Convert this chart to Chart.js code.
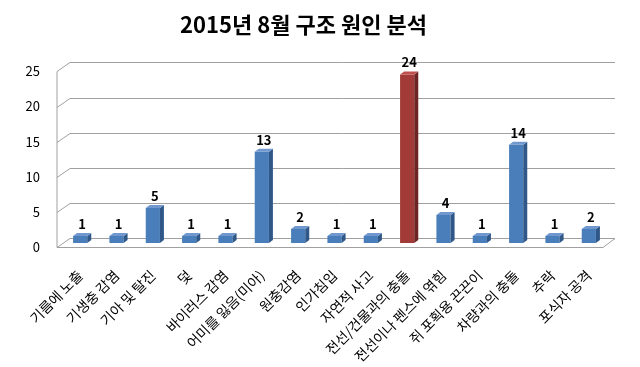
<!DOCTYPE html>
<html>
<head>
<meta charset="utf-8">
<script src="https://cdn.jsdelivr.net/npm/chart.js@4.4.1/dist/chart.umd.min.js"></script>
<style>
  html, body { margin: 0; padding: 0; background: #fff; }
  #wrap { width: 640px; height: 367px; }
</style>
</head>
<body>
<div id="wrap"><canvas id="chart" width="640" height="367"></canvas></div>
<script>
// 데이터
const categories = ['기름에 노출', '기생충 감염', '기아 및 탈진', '덫', '바이러스 감염', '어미를 잃음(미아)', '원충감염', '인가침입', '자연적 사고', '전선/건물과의 충돌', '전선이나 펜스에 엮힘', '쥐 포획용 끈끈이', '차량과의 충돌', '추락', '포식자 공격'];
const counts = [1, 1, 5, 1, 1, 13, 2, 1, 1, 24, 4, 1, 14, 1, 2];
const highlight = '전선/건물과의 충돌';
const yTicks = [0, 5, 10, 15, 20, 25];

const FONT = "'Noto Sans CJK KR', 'Noto Sans', sans-serif";
const DEPTH_X = 4, DEPTH_Y = 3;

function faceColors(label) {
  if (label === highlight) return { front: '#a23a37', side: '#6d2422', top: '#c0504d' };
  return { front: '#4a7ebb', side: '#2f5889', top: '#7098cf' };
}

// 3D 벽/바닥 격자
const wallPlugin = {
  id: 'wall',
  beforeDatasetsDraw(chart) {
    const { ctx, chartArea, scales } = chart;
    const y = scales.y;
    const fx = chartArea.left - 5, bx = chartArea.left + 8, rx = chartArea.right + 8;
    ctx.save();
    ctx.strokeStyle = '#a0a0a0';
    ctx.lineWidth = 1;
    yTicks.forEach(v => {
      const py = Math.round(y.getPixelForValue(v)) + 0.5;
      ctx.beginPath();
      ctx.moveTo(fx, py + 4);
      ctx.lineTo(bx, py - 5);
      ctx.lineTo(rx, py - 5);
      ctx.stroke();
    });
    const y0 = Math.round(y.getPixelForValue(0)) + 0.5;
    const yTop = Math.round(y.getPixelForValue(25)) + 0.5;
    ctx.beginPath();
    ctx.moveTo(fx, yTop + 4);
    ctx.lineTo(fx, y0 + 4);
    ctx.lineTo(rx - 12, y0 + 4);
    ctx.lineTo(rx, y0 - 5);
    ctx.stroke();
    ctx.restore();
  }
};

// 막대 옆면, 윗면, 값 표시
const bar3dPlugin = {
  id: 'bar3d',
  afterDatasetsDraw(chart) {
    const { ctx } = chart;
    const meta = chart.getDatasetMeta(0);
    ctx.save();
    meta.data.forEach((bar, i) => {
      const c = faceColors(categories[i]);
      const x1 = bar.x - bar.width / 2, x2 = bar.x + bar.width / 2;
      const top = bar.y, base = bar.base;
      ctx.fillStyle = c.side;
      ctx.beginPath();
      ctx.moveTo(x2, top);
      ctx.lineTo(x2 + DEPTH_X, top - DEPTH_Y);
      ctx.lineTo(x2 + DEPTH_X, base - DEPTH_Y);
      ctx.lineTo(x2, base);
      ctx.closePath();
      ctx.fill();
      ctx.fillStyle = c.top;
      ctx.beginPath();
      ctx.moveTo(x1, top);
      ctx.lineTo(x1 + DEPTH_X, top - DEPTH_Y);
      ctx.lineTo(x2 + DEPTH_X, top - DEPTH_Y);
      ctx.lineTo(x2, top);
      ctx.closePath();
      ctx.fill();

      ctx.fillStyle = '#000';
      ctx.font = 'bold 13px ' + FONT;
      ctx.textAlign = 'center';
      ctx.textBaseline = 'middle';
      ctx.fillText(counts[i], bar.x + 2, top - 12);
    });
    ctx.restore();
  }
};

new Chart(document.getElementById('chart'), {
  type: 'bar',
  data: {
    labels: categories,
    datasets: [{
      data: counts,
      backgroundColor: categories.map(l => faceColors(l).front),
      borderWidth: 0,
      barPercentage: 0.39,
      categoryPercentage: 1
    }]
  },
  options: {
    responsive: false,
    animation: false,
    layout: { padding: { right: 33 } },
    plugins: {
      legend: { display: false },
      tooltip: { enabled: false },
      title: {
        display: true,
        text: '2015년 8월 구조 원인 분석',
        color: '#000',
        font: { family: FONT, size: 22, weight: 'bold' },
        padding: { top: 11, bottom: 30 }
      }
    },
    scales: {
      x: {
        grid: { display: false },
        border: { display: false },
        ticks: {
          color: '#000',
          font: { family: FONT, size: 14 },
          minRotation: 45,
          maxRotation: 45,
          padding: 16,
          autoSkip: false
        },
        afterFit(s) { s.height = 124; }
      },
      y: {
        min: 0,
        max: 25,
        grid: { display: false },
        border: { display: false },
        ticks: {
          stepSize: 5,
          color: '#000',
          font: { family: FONT, size: 13 },
          padding: 14,
          labelOffset: 4
        },
        afterFit(s) { s.width = 62; }
      }
    }
  },
  plugins: [wallPlugin, bar3dPlugin]
});
</script>
</body>
</html>
